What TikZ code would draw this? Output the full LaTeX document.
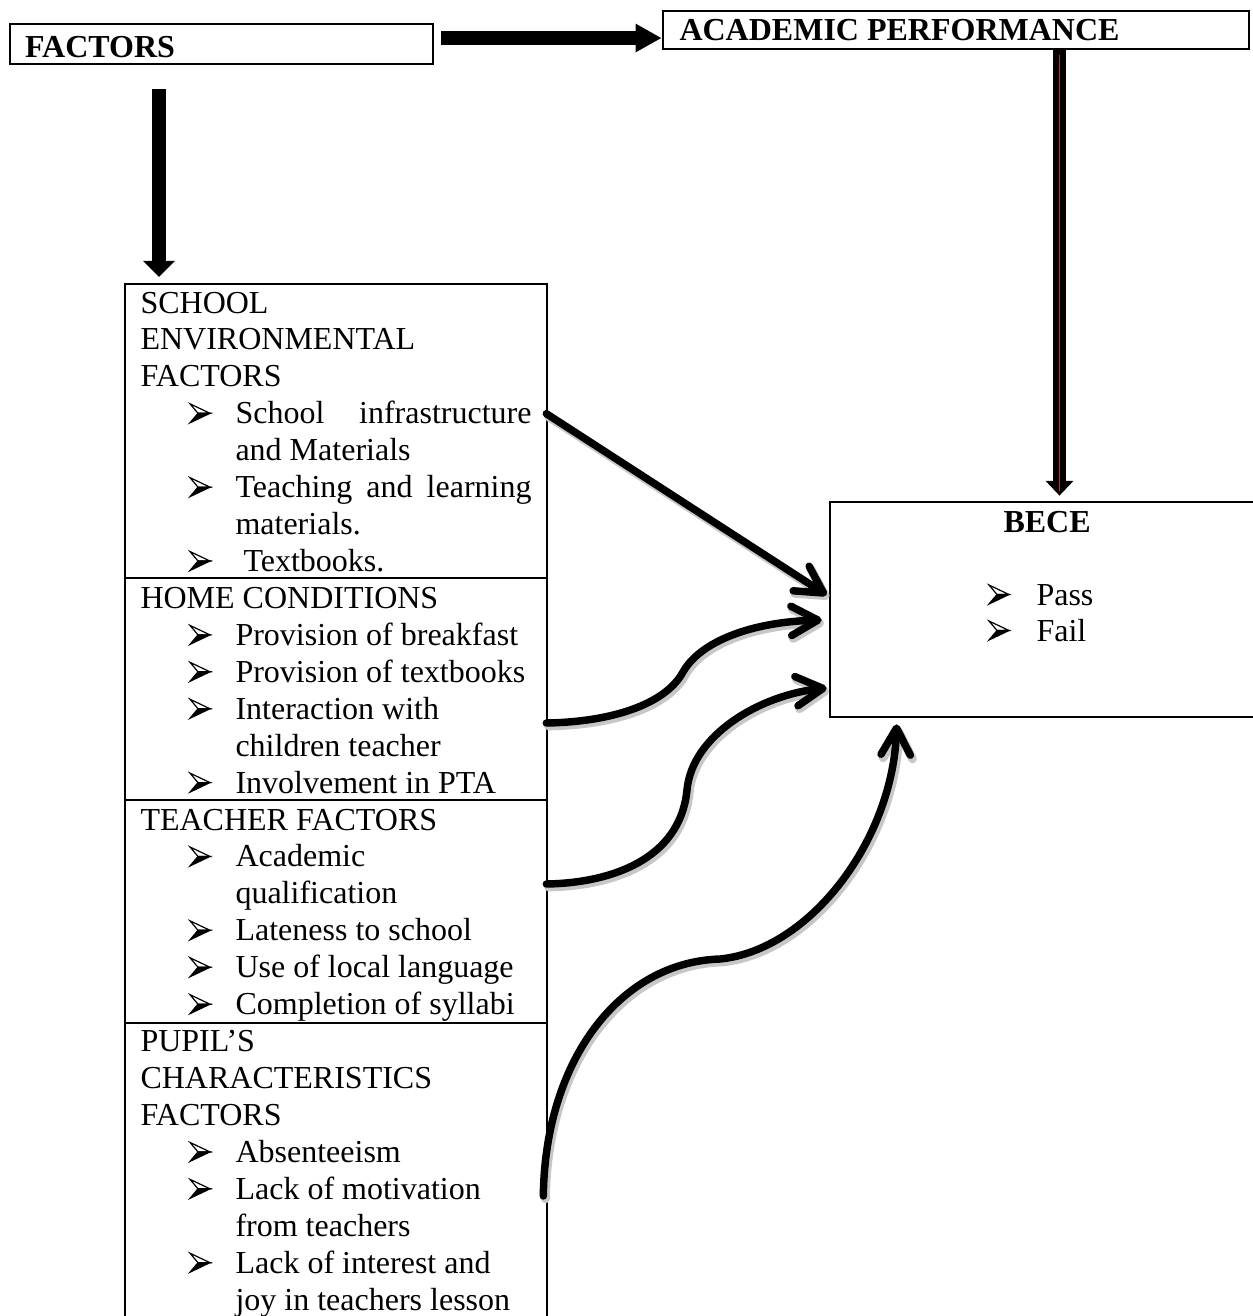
\documentclass[tikz,border=0pt]{standalone}
\usepackage{fontspec}
\setmainfont{Liberation Serif}
\usetikzlibrary{arrows.meta,fit,calc}
\newcommand\ft{\fontsize{12}{13.85}\selectfont}
\definecolor{redline}{RGB}{190,50,50}
\newcommand\by[1]{313+36.93*#1}
\newcommand\hd[2]{\node[txt] (h#1) at (140,{\by{#1}}) {#2};}
\newcommand\bl[2]{\pic at (190,{\by{#1}}) {bulletmark};\node[txt] (t#1) at (235,{\by{#1}}) {#2};}
\newcommand\ct[2]{\node[txt] (t#1) at (235,{\by{#1}}) {#2};}
\newcommand\twice[1]{\draw[curvyshadow] #1; \draw[curvy] #1;}
\begin{document}
\begin{tikzpicture}[x=0.375pt,y=-0.375pt,
  box/.style={draw, line width=1pt, inner sep=0pt},
  txt/.style={anchor=base west, inner sep=0pt, font=\ft},
  txtb/.style={anchor=base west, inner sep=0pt, font=\ft\bfseries},
  curvy/.style={line width=2.8pt, line cap=round, -{Straight Barb[length=10pt,width=11pt,round]}},
  curvyshadow/.style={draw=black!22, line width=3.3pt, line cap=round,
     -{Straight Barb[length=10pt,width=11pt,round]},
     transform canvas={shift={(0.8pt,-1.1pt)}}},
  bulletmark/.pic={
    \filldraw[fill=white, line width=0.45pt, line join=miter] (0,-20) -- (20,-10.5) -- (8,-10.5) -- cycle;
    \filldraw[line width=0.45pt, line join=miter] (0,-1) -- (20,-10.5) -- (8,-10.5) -- cycle;
  }]
\useasboundingbox (0,0) rectangle (1253,1316);
\clip (0,0) rectangle (1253,1316);
% top boxes
\node[box, fit={(10,24)(433,64)}] (factors) {};
\node[txtb] (factorsT) at (24.5,57) {FACTORS};
\node[box, fit={(663,11)(1249,49)}] (ap) {};
\node[txtb] (apT) at (679,40) {ACADEMIC PERFORMANCE};
% left column
\node[box, fit={(125,284)(547,578)}] (sec1) {};
\node[box, fit={(125,578)(547,800)}] (sec2) {};
\node[box, fit={(125,800)(547,1023)}] (sec3) {};
\node[box, fit={(125,1023)(547,1330)}] (sec4) {};
% BECE box
\node[box, fit={(830,502)(1270,717)}] (bece) {};
\node[txtb] (beceT) at (1003,532) {BECE};
\pic at (989,605) {bulletmark};
\node[txt] (pass) at (1036,605) {Pass};
\pic at (989,641) {bulletmark};
\node[txt] (fail) at (1036,641) {Fail};
% texts
\hd{0}{SCHOOL}
\hd{1}{ENVIRONMENTAL}
\hd{2}{FACTORS}
\pic at (190,{\by{3}}) {bulletmark};
\node[txt] (t3) at (235,{\by{3}}) {\hbox to 111pt{School\hfill infrastructure}};
\ct{4}{and Materials}
\pic at (190,{\by{5}}) {bulletmark};
\node[txt] (t5) at (235,{\by{5}}) {\hbox to 111pt{Teaching\hfill and\hfill learning}};
\ct{6}{materials.}
\pic at (190,{\by{7}}) {bulletmark};
\node[txt] (t7) at (243,{\by{7}}) {Textbooks.};
\hd{8}{HOME CONDITIONS}
\bl{9}{Provision of breakfast}
\bl{10}{Provision of textbooks}
\bl{11}{Interaction with}
\ct{12}{children teacher}
\bl{13}{Involvement in PTA}
\hd{14}{TEACHER FACTORS}
\bl{15}{Academic}
\ct{16}{qualification}
\bl{17}{Lateness to school}
\bl{18}{Use of local language}
\bl{19}{Completion of syllabi}
\hd{20}{PUPIL’S}
\hd{21}{CHARACTERISTICS}
\hd{22}{FACTORS}
\bl{23}{Absenteeism}
\bl{24}{Lack of motivation}
\ct{25}{from teachers}
\bl{26}{Lack of interest and}
\ct{27}{joy in teachers lesson}
% block arrows
\coordinate (a1s) at ($(factors.east)+(7,-6)$);
\draw[line width=4.9pt, -{Triangle[length=9.75pt,width=10pt]}] (a1s) -- (a1s -| ap.west);
\coordinate (x1) at (1059.5,0);
\coordinate (a2s) at (ap.south -| x1);
\draw[line width=4.9pt, -{Triangle[length=5.5pt,width=10.1pt]}, shorten >=1.9pt] (a2s) -- (a2s |- bece.north);
\draw[redline, line width=0.6pt] ($(a2s)+(0,5)$) -- ($(a2s |- bece.north)+(0,-10)$);
\coordinate (x2) at (159,0);
\coordinate (a3s) at ($(factors.south -| x2)+(0,24)$);
\draw[line width=5.25pt, -{Triangle[length=6pt,width=11.6pt]}, shorten >=2.2pt] (a3s) -- (a3s |- sec1.north);
% curved connectors
\twice{($(sec1.north east)+(-2,131)$) -- ($(bece.west)+(-2,-14.5)$)}
\twice{($(sec2.east)+(-2,34)$) .. controls (610,722) and (665,705) .. (683,672)
   .. controls (700,642) and (750,622) .. ($(bece.west)+(-7,10.5)$)}
\twice{($(sec3.east)+(-2,-27.5)$) .. controls (610,883) and (680,860) .. (687,790)
   .. controls (692,735) and (760,695) .. ($(bece.west)+(-2,78.5)$)}
\twice{($(sec4.east)+(-5,19.5)$) .. controls (545,1060) and (620,962) .. (720,959)
   .. controls (810,950) and (893,840) .. ($(bece.south west)+(68,6)$)}
\end{tikzpicture}
\end{document}
